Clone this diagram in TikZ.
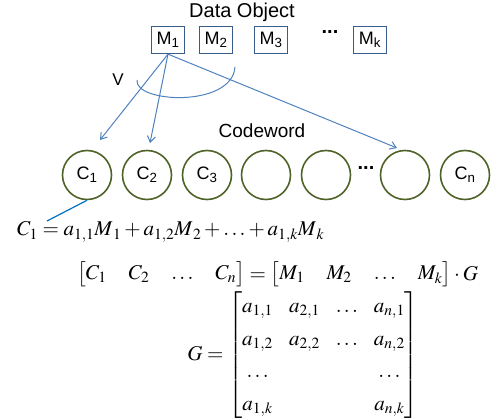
\documentclass[tikz,border=0pt]{standalone}
\usepackage{amsmath}
\usepackage{mathptmx}
\usepackage[no-math]{fontspec}
\usepackage{xcolor}
\usetikzlibrary{arrows.meta}
\newfontfamily\labelfont{Liberation Sans}
\definecolor{ArrowBlue}{RGB}{79,129,189}
\definecolor{LinkBlue}{RGB}{0,112,192}
\definecolor{BoxBlue}{RGB}{56,93,138}
\definecolor{CircleOlive}{RGB}{79,98,40}

\begin{document}
\begin{tikzpicture}[x=1pt, y=-1pt,
  mbox/.style={draw=BoxBlue, line width=1.3pt, minimum width=33pt, minimum height=27pt,
    inner sep=0pt, font=\labelfont\fontsize{18}{21}\selectfont},
  cword/.style={circle, draw=CircleOlive, line width=1.6pt, minimum size=49pt,
    inner sep=0pt, font=\labelfont\fontsize{18}{21}\selectfont},
  link/.style={ArrowBlue, line width=1pt},
  eqn/.style={inner sep=0pt, font=\fontsize{21}{25}\selectfont}]
  \useasboundingbox (0,0) rectangle (492,419);
  % data object row
  \node[font=\labelfont\fontsize{20}{24}\selectfont] (dtitle) at (242,12) {Data Object};
  \node[mbox] (m1) at (168,40) {M\textsubscript{1}};
  \node[mbox] (m2) at (216,40) {M\textsubscript{2}};
  \node[mbox] (m3) at (271,40) {M\textsubscript{3}};
  \node[font=\labelfont\fontsize{20}{24}\selectfont\bfseries] (mdots) at (330,32) {...};
  \node[mbox] (mk) at (370,40) {M\textsubscript{k}};
  % codeword row
  \node[font=\labelfont\fontsize{19}{23}\selectfont] (ctitle) at (262,131) {Codeword};
  \node[cword] (c1) at (87,175) {C\textsubscript{1}};
  \node[cword] (c2) at (147,175) {C\textsubscript{2}};
  \node[cword] (c3) at (207,175) {C\textsubscript{3}};
  \node[cword] (c4) at (266,175) {};
  \node[cword] (c5) at (326,175) {};
  \node[font=\labelfont\fontsize{20}{24}\selectfont\bfseries] (cdots) at (366,168) {...};
  \node[cword] (c6) at (405,175) {};
  \node[cword] (cn) at (465,175) {C\textsubscript{n}};
  % connectors
  \coordinate (t1) at (100,140);
  \coordinate (t2) at (150,143);
  \coordinate (t6) at (397,148);
  \draw[link, -{Straight Barb[length=6pt,width=8pt]}] (m1.south) -- (t1);
  \draw[link, -{Straight Barb[length=6pt,width=8pt]}] (m1.south) -- (t2);
  \draw[link, -{Straight Barb[length=6pt,width=8pt]}] (m1.south) -- (t6);
  \draw[link] (137,80) .. controls (134,103) and (232,108) .. (235,67);
  \node[font=\labelfont\fontsize{17}{20}\selectfont] (vlabel) at (118,80) {V};
  % equations
  \node[eqn, anchor=base west] (eqone) at (17,236)
    {$C_1 = a_{1,1}M_{\,1} + a_{1,2}M_{\,2} + \ldots + a_{1,k}M_{\,k}$};
  \coordinate (eqtip) at (47,221);
  \draw[LinkBlue, line width=1.2pt] (c1.south) -- (eqtip);
  \node[eqn, anchor=base west] (eqtwo) at (77,280)
    {$\setlength{\arraycolsep}{11pt}\begin{bmatrix} C_1 & C_2 & \ldots & C_n \end{bmatrix} = \begin{bmatrix} M_1 & M_2 & \ldots & M_k \end{bmatrix}\cdot G$};
  \node[eqn, anchor=east] (eqthree) at (419,355)
    {$G = \setlength{\arraycolsep}{8pt}\renewcommand{\arraystretch}{1.3}\begin{bmatrix} a_{1,1} & a_{2,1} & \ldots & a_{n,1}\\ a_{1,2} & a_{2,2} & \ldots & a_{n,2}\\ \ldots & & & \ldots\\ a_{1,k} & & & a_{n,k} \end{bmatrix}$};
\end{tikzpicture}
\end{document}
